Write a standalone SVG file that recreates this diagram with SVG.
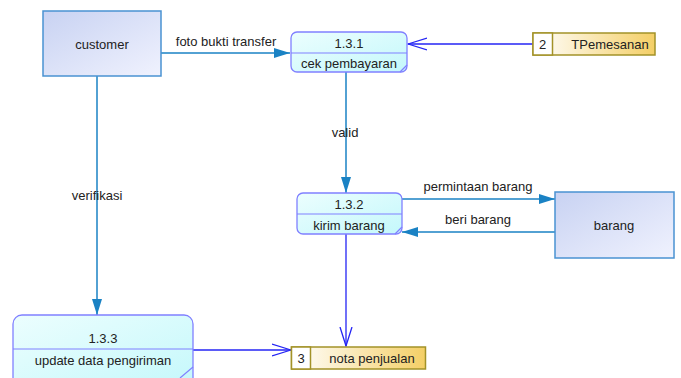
<svg xmlns="http://www.w3.org/2000/svg" width="681" height="378" viewBox="0 0 681 378">
<defs>
<linearGradient id="gEnt" x1="0" y1="0" x2="1" y2="1"><stop offset="0" stop-color="#c8d2f2"/><stop offset="1" stop-color="#f0f2fe"/></linearGradient>
<linearGradient id="gProc" x1="0" y1="0" x2="1" y2="1"><stop offset="0" stop-color="#ecfefe"/><stop offset="1" stop-color="#c4f8fb"/></linearGradient>
<linearGradient id="gStore" x1="0" y1="0" x2="1" y2="0"><stop offset="0" stop-color="#ffffff"/><stop offset="1" stop-color="#f4cf66"/></linearGradient>
<marker id="fill" viewBox="0 0 16 10" refX="16" refY="5" markerWidth="16" markerHeight="10" markerUnits="userSpaceOnUse" orient="auto"><path d="M0,0 L16,5 L0,10 Z" fill="#1a82c4"/></marker>
<marker id="open" viewBox="0 0 20 14" refX="19" refY="7" markerWidth="20" markerHeight="14" markerUnits="userSpaceOnUse" orient="auto"><path d="M0,1 L19,7 L0,13" fill="none" stroke="#2424f4" stroke-width="1.3"/></marker>
</defs>
<style>
text{font-family:"Liberation Sans",Arial,sans-serif;font-size:13px;fill:#222}
.ent{fill:url(#gEnt);stroke:#4a92d2;stroke-width:1.5}
.proc{fill:url(#gProc);stroke:#8080ff;stroke-width:1.3}
.div{stroke:#8080ff;stroke-width:1.2}
.store{fill:url(#gStore);stroke:#a39228;stroke-width:1.5}
.num{fill:#fff;stroke:#a39228;stroke-width:1.5}
.c1{stroke:#1a82c4;stroke-width:1.5;fill:none}
.c2{stroke:#2424f4;stroke-width:1.3;fill:none}
.m{text-anchor:middle}
</style>
<g id="connectors">
<path class="c1" d="M161,53 H290" marker-end="url(#fill)"/>
<text x="226" y="46" class="m">foto bukti transfer</text>
<path class="c2" d="M533,44 H408" marker-end="url(#open)"/>
<path class="c1" d="M346,72 V193" marker-end="url(#fill)"/>
<text x="345" y="137" class="m">valid</text>
<path class="c1" d="M402,199 H555" marker-end="url(#fill)"/>
<text x="478" y="191" class="m">permintaan barang</text>
<path class="c1" d="M555,232 H402" marker-end="url(#fill)"/>
<text x="478" y="224" class="m">beri barang</text>
<path class="c2" d="M346,234 V346" marker-end="url(#open)"/>
<path class="c1" d="M97,76 V315" marker-end="url(#fill)"/>
<text x="97" y="200" class="m">verifikasi</text>
<path class="c2" d="M193,350 H291" marker-end="url(#open)"/>
</g>
<g id="customer">
<rect class="ent" x="43" y="11" width="118" height="65"/>
<text x="102" y="49" class="m">customer</text>
</g>
<g id="barang">
<rect class="ent" x="555" y="192" width="119" height="66"/>
<text x="614" y="230" class="m">barang</text>
</g>
<g id="p131">
<rect class="proc" x="291" y="32" width="116" height="40" rx="6"/>
<line class="div" x1="291" y1="53" x2="407" y2="53"/>
<line class="div" x1="400" y1="72" x2="407" y2="65"/>
<text x="349" y="48" class="m">1.3.1</text>
<text x="349" y="68" class="m">cek pembayaran</text>
</g>
<g id="p132">
<rect class="proc" x="297" y="193" width="105" height="41" rx="6"/>
<line class="div" x1="297" y1="214" x2="402" y2="214"/>
<line class="div" x1="395" y1="234" x2="402" y2="227"/>
<text x="349" y="209" class="m">1.3.2</text>
<text x="349" y="230" class="m">kirim barang</text>
</g>
<g id="p133">
<rect class="proc" x="13" y="315" width="180" height="75" rx="9"/>
<line class="div" x1="13" y1="349" x2="193" y2="349"/>
<line class="div" x1="180" y1="378" x2="193" y2="367"/>
<text x="103" y="343" class="m">1.3.3</text>
<text x="103" y="365" class="m">update data pengiriman</text>
</g>
<g id="s2">
<rect class="store" x="533" y="33" width="122" height="22"/>
<rect class="num" x="533" y="33" width="19.5" height="22"/>
<text x="542.5" y="49" class="m">2</text>
<text x="610" y="49" class="m">TPemesanan</text>
</g>
<g id="s3">
<rect class="store" x="291.5" y="347" width="134" height="22"/>
<rect class="num" x="291.5" y="347" width="19" height="22"/>
<text x="301" y="363" class="m">3</text>
<text x="372" y="363" class="m">nota penjualan</text>
</g>
</svg>
